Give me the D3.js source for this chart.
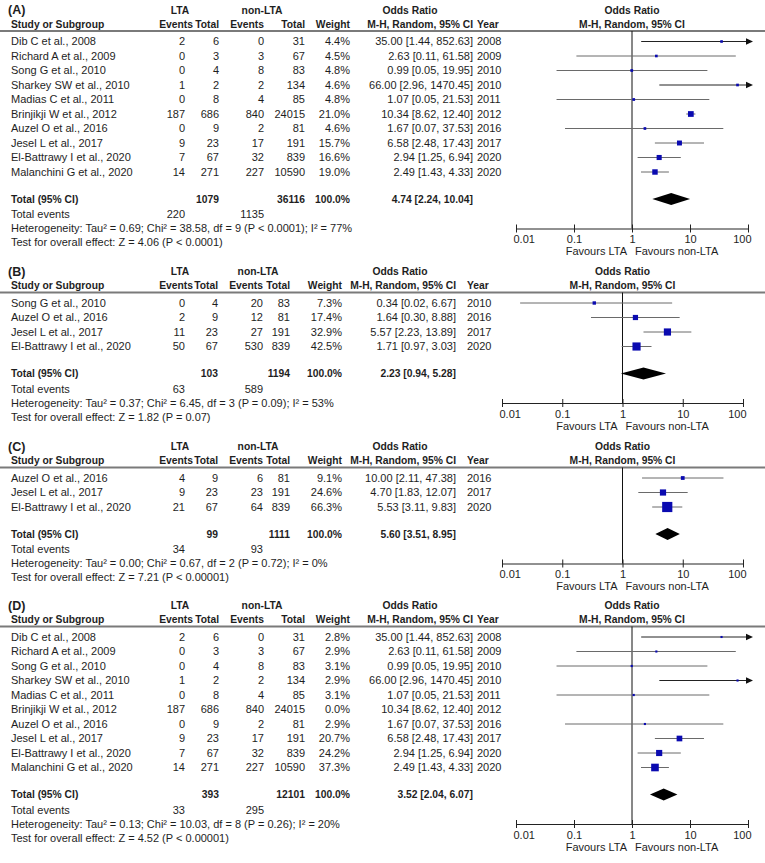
<!DOCTYPE html>
<html lang="en">
<head>
<meta charset="UTF-8">
<title>Forest plots - LTA vs non-LTA</title>
<script src="https://d3js.org/d3.v7.min.js"></script>
<style>
  body { margin: 0; background: #fff; }
  svg text { font-family: "Liberation Sans", Arial, sans-serif; font-size: 11px; fill: #1e1e1e; }
  svg text.bold { font-weight: bold; font-size: 10.3px; }
  svg text.panel { font-weight: bold; font-size: 12.5px; }
</style>
</head>
<body>
<svg id="chart" width="765" height="863"></svg>
<script>
// ---- panel A ----
const studiesA = ["Dib C et al., 2008", "Richard A et al., 2009", "Song G et al., 2010", "Sharkey SW et al., 2010", "Madias C et al., 2011",
  "Brinjikji W et al., 2012", "Auzel O et al., 2016", "Jesel L et al., 2017", "El-Battrawy I et al., 2020", "Malanchini G et al., 2020"];
const eventsLtaA = [2, 0, 0, 1, 0, 187, 0, 9, 7, 14];
const totalLtaA = [6, 3, 4, 2, 8, 686, 9, 23, 67, 271];
const eventsNonA = [0, 3, 8, 2, 4, 840, 2, 17, 32, 227];
const totalNonA = [31, 67, 83, 134, 85, 24015, 81, 191, 839, 10590];
const weightA = [4.4, 4.5, 4.8, 4.6, 4.8, 21.0, 4.6, 15.7, 16.6, 19.0];
const orA = [35.00, 2.63, 0.99, 66.00, 1.07, 10.34, 1.67, 6.58, 2.94, 2.49];
const loA = [1.44, 0.11, 0.05, 2.96, 0.05, 8.62, 0.07, 2.48, 1.25, 1.43];
const hiA = [852.63, 61.58, 19.95, 1470.45, 21.53, 12.40, 37.53, 17.43, 6.94, 4.33];
const yearA = [2008, 2009, 2010, 2010, 2011, 2012, 2016, 2017, 2020, 2020];

// ---- panel B ----
const studiesB = ["Song G et al., 2010", "Auzel O et al., 2016", "Jesel L et al., 2017", "El-Battrawy I et al., 2020"];
const eventsLtaB = [0, 2, 11, 50];
const totalLtaB = [4, 9, 23, 67];
const eventsNonB = [20, 12, 27, 530];
const totalNonB = [83, 81, 191, 839];
const weightB = [7.3, 17.4, 32.9, 42.5];
const orB = [0.34, 1.64, 5.57, 1.71];
const loB = [0.02, 0.30, 2.23, 0.97];
const hiB = [6.67, 8.88, 13.89, 3.03];
const yearB = [2010, 2016, 2017, 2020];

// ---- panel C ----
const studiesC = ["Auzel O et al., 2016", "Jesel L et al., 2017", "El-Battrawy I et al., 2020"];
const eventsLtaC = [4, 9, 21];
const totalLtaC = [9, 23, 67];
const eventsNonC = [6, 23, 64];
const totalNonC = [81, 191, 839];
const weightC = [9.1, 24.6, 66.3];
const orC = [10.00, 4.70, 5.53];
const loC = [2.11, 1.83, 3.11];
const hiC = [47.38, 12.07, 9.83];
const yearC = [2016, 2017, 2020];

// ---- panel D ----
const studiesD = ["Dib C et al., 2008", "Richard A et al., 2009", "Song G et al., 2010", "Sharkey SW et al., 2010", "Madias C et al., 2011",
  "Brinjikji W et al., 2012", "Auzel O et al., 2016", "Jesel L et al., 2017", "El-Battrawy I et al., 2020", "Malanchini G et al., 2020"];
const eventsLtaD = [2, 0, 0, 1, 0, 187, 0, 9, 7, 14];
const totalLtaD = [6, 3, 4, 2, 8, 686, 9, 23, 67, 271];
const eventsNonD = [0, 3, 8, 2, 4, 840, 2, 17, 32, 227];
const totalNonD = [31, 67, 83, 134, 85, 24015, 81, 191, 839, 10590];
const weightD = [2.8, 2.9, 3.1, 2.9, 3.1, 0.0, 2.9, 20.7, 24.2, 37.3];
const orD = [35.00, 2.63, 0.99, 66.00, 1.07, 10.34, 1.67, 6.58, 2.94, 2.49];
const loD = [1.44, 0.11, 0.05, 2.96, 0.05, 8.62, 0.07, 2.48, 1.25, 1.43];
const hiD = [852.63, 61.58, 19.95, 1470.45, 21.53, 12.40, 37.53, 17.43, 6.94, 4.33];
const yearD = [2008, 2009, 2010, 2010, 2011, 2012, 2016, 2017, 2020, 2020];

// ---- pooled results (A, B, C, D) ----
const panelLabels = ["(A)", "(B)", "(C)", "(D)"];
const pooledTotalLta = [1079, 103, 99, 393];
const pooledTotalNon = [36116, 1194, 1111, 12101];
const pooledEventsLta = [220, 63, 34, 33];
const pooledEventsNon = [1135, 589, 93, 295];
const pooledOr = [4.74, 2.23, 5.60, 3.52];
const pooledLo = [2.24, 0.94, 3.51, 2.04];
const pooledHi = [10.04, 5.28, 8.95, 6.07];
const heterogeneity = [
  "Heterogeneity: Tau² = 0.69; Chi² = 38.58, df = 9 (P < 0.0001); I² = 77%",
  "Heterogeneity: Tau² = 0.37; Chi² = 6.45, df = 3 (P = 0.09); I² = 53%",
  "Heterogeneity: Tau² = 0.00; Chi² = 0.67, df = 2 (P = 0.72); I² = 0%",
  "Heterogeneity: Tau² = 0.13; Chi² = 10.03, df = 8 (P = 0.26); I² = 20%"
];
const overallTest = [
  "Test for overall effect: Z = 4.06 (P < 0.0001)",
  "Test for overall effect: Z = 1.82 (P = 0.07)",
  "Test for overall effect: Z = 7.21 (P < 0.00001)",
  "Test for overall effect: Z = 4.52 (P < 0.00001)"
];

const tickValues = [0.01, 0.1, 1, 10, 100];
const tickLabels = ["0.01", "0.1", "1", "10", "100"];

const svg = d3.select("#chart");
const width = 765;

// two slightly different column layouts (A/D and B/C were pasted from different exports)
const layoutWide = { study: 11, e1: 185, e1h: 193, t1: 219, e2: 264, t2: 305, w: 350, orR: 473, orHead: 410, year: 477, lta: 180, non: 262, axis: [516, 748] };
const layoutNarrow = { study: 11, e1: 185, e1h: 193, t1: 218, e2: 263, t2: 290, w: 342, orR: 456, orHead: 400, year: 467, lta: 180, non: 258, axis: [502, 743] };

const panels = [
  { studies: studiesA, e1: eventsLtaA, t1: totalLtaA, e2: eventsNonA, t2: totalNonA, w: weightA, or: orA, lo: loA, hi: hiA, year: yearA, layout: layoutWide, row1: 41.5 },
  { studies: studiesB, e1: eventsLtaB, t1: totalLtaB, e2: eventsNonB, t2: totalNonB, w: weightB, or: orB, lo: loB, hi: hiB, year: yearB, layout: layoutNarrow, row1: 303 },
  { studies: studiesC, e1: eventsLtaC, t1: totalLtaC, e2: eventsNonC, t2: totalNonC, w: weightC, or: orC, lo: loC, hi: hiC, year: yearC, layout: layoutNarrow, row1: 478 },
  { studies: studiesD, e1: eventsLtaD, t1: totalLtaD, e2: eventsNonD, t2: totalNonD, w: weightD, or: orD, lo: loD, hi: hiD, year: yearD, layout: layoutWide, row1: 637 }
];

const fmtCI = (o, l, h) => `${o.toFixed(2)} [${l.toFixed(2)}, ${h.toFixed(2)}]`;
// square side grows with the square root of the weight
const boxSize = d3.scaleSqrt().domain([0, 100]).range([0, 12.5]);

function label(g, x, y, s, anchor, cls) {
  return g.append("text")
    .attr("x", x)
    .attr("y", y)
    .attr("dy", "0.35em")
    .attr("text-anchor", anchor)
    .attr("class", cls || null)
    .text(s);
}

function drawPanel(p, k) {
  const L = p.layout;
  const g = svg.append("g");
  const step = 14.5;
  const rowY = i => p.row1 + i * step;
  const n = p.studies.length;
  const head1 = p.row1 - 31.5, head2 = p.row1 - 17.5, sepY = p.row1 - 10.5;
  const totalY = rowY(n - 1) + 27;
  const axisY = totalY + 29.5;
  const x = d3.scaleLog().domain([0.01, 100]).range(L.axis);
  const x1 = x(1);

  // header
  label(g, 8, head1, panelLabels[k], "start", "panel");
  label(g, L.lta, head1, "LTA", "middle", "bold");
  label(g, L.non, head1, "non-LTA", "middle", "bold");
  label(g, L.orHead, head1, "Odds Ratio", "middle", "bold");
  label(g, x1, head1, "Odds Ratio", "middle", "bold");
  label(g, L.study, head2, "Study or Subgroup", "start", "bold");
  label(g, L.e1h, head2, "Events", "end", "bold");
  label(g, L.t1, head2, "Total", "end", "bold");
  label(g, L.e2, head2, "Events", "end", "bold");
  label(g, L.t2, head2, "Total", "end", "bold");
  label(g, L.w, head2, "Weight", "end", "bold");
  label(g, L.orR, head2, "M-H, Random, 95% CI", "end", "bold");
  label(g, L.year, head2, "Year", "start", "bold");
  label(g, x1, head2, "M-H, Random, 95% CI", "middle", "bold");

  g.append("line")
    .attr("x1", 0).attr("x2", width)
    .attr("y1", sepY).attr("y2", sepY)
    .attr("stroke", "#7a7a7a").attr("stroke-width", 2);

  // study rows
  const rows = p.studies.map((s, i) => ({
    s, e1: p.e1[i], t1: p.t1[i], e2: p.e2[i], t2: p.t2[i], w: p.w[i],
    or: p.or[i], lo: p.lo[i], hi: p.hi[i], year: p.year[i], y: rowY(i)
  }));

  rows.forEach(r => {
    label(g, L.study, r.y, r.s, "start");
    label(g, L.e1, r.y, r.e1, "end");
    label(g, L.t1, r.y, r.t1, "end");
    label(g, L.e2, r.y, r.e2, "end");
    label(g, L.t2, r.y, r.t2, "end");
    label(g, L.w, r.y, r.w.toFixed(1) + "%", "end");
    label(g, L.orR, r.y, fmtCI(r.or, r.lo, r.hi), "end");
    label(g, L.year, r.y, r.year, "start");
  });

  // vertical line of no effect
  g.append("line")
    .attr("x1", x1).attr("x2", x1)
    .attr("y1", sepY).attr("y2", axisY)
    .attr("stroke", "#111").attr("stroke-width", 1);

  // CI lines, arrows where the interval runs off the axis
  const xMax = L.axis[1] + 5, xMin = L.axis[0] - 5;
  const shown = rows.filter(r => r.w > 0);
  g.selectAll("line.ci")
    .data(shown)
    .enter().append("line")
    .attr("class", "ci")
    .attr("x1", d => d.lo < 0.01 ? xMin : x(d.lo))
    .attr("x2", d => d.hi > 100 ? xMax - 4 : x(d.hi))
    .attr("y1", d => d.y).attr("y2", d => d.y)
    .attr("stroke", d => d.hi > 100 ? "#222" : "#6a6a6a")
    .attr("stroke-width", 1);

  g.selectAll("path.arrow")
    .data(shown.filter(d => d.hi > 100))
    .enter().append("path")
    .attr("class", "arrow")
    .attr("d", d => `M${xMax},${d.y} L${xMax - 7},${d.y - 3.2} L${xMax - 7},${d.y + 3.2} Z`)
    .attr("fill", "#111");

  g.selectAll("rect.box")
    .data(shown)
    .enter().append("rect")
    .attr("class", "box")
    .attr("x", d => x(d.or) - Math.max(2, boxSize(d.w)) / 2)
    .attr("y", d => d.y - Math.max(2, boxSize(d.w)) / 2)
    .attr("width", d => Math.max(2, boxSize(d.w)))
    .attr("height", d => Math.max(2, boxSize(d.w)))
    .attr("fill", "#0a0ab0");

  // pooled row
  label(g, L.study, totalY, "Total (95% CI)", "start", "bold");
  label(g, L.t1, totalY, pooledTotalLta[k], "end", "bold");
  label(g, L.t2, totalY, pooledTotalNon[k], "end", "bold");
  label(g, L.w, totalY, "100.0%", "end", "bold");
  label(g, L.orR, totalY, fmtCI(pooledOr[k], pooledLo[k], pooledHi[k]), "end", "bold");

  g.append("path")
    .attr("d", `M${x(pooledLo[k])},${totalY} L${x(pooledOr[k])},${totalY - 6} L${x(pooledHi[k])},${totalY} L${x(pooledOr[k])},${totalY + 6} Z`)
    .attr("fill", "#000");

  label(g, L.study, totalY + 15.5, "Total events", "start");
  label(g, L.e1, totalY + 15.5, pooledEventsLta[k], "end");
  label(g, L.e2, totalY + 15.5, pooledEventsNon[k], "end");
  label(g, L.study, totalY + 29.5, heterogeneity[k], "start");
  label(g, L.study, totalY + 43.5, overallTest[k], "start");

  // log axis
  const axis = d3.axisBottom(x)
    .tickValues(tickValues)
    .tickFormat((d, i) => tickLabels[i])
    .tickSize(4)
    .tickSizeOuter(0);

  const ax = g.append("g")
    .attr("transform", `translate(0,${axisY})`)
    .call(axis);
  ax.select(".domain").attr("stroke", "#222");
  ax.selectAll(".tick line").attr("y1", -4).attr("y2", 4).attr("stroke", "#222");
  ax.selectAll(".tick text")
    .attr("font-family", null).attr("font-size", null)
    .attr("text-anchor", (d, i) => i === 0 ? "start" : i === tickValues.length - 1 ? "end" : "middle")
    .attr("dx", (d, i) => i === 0 ? -3 : i === tickValues.length - 1 ? 3 : 0);

  label(g, x1 - 5, axisY + 23, "Favours LTA", "end");
  label(g, x1 + 3, axisY + 23, "Favours non-LTA", "start");
}

panels.forEach(drawPanel);
</script>
</body>
</html>
